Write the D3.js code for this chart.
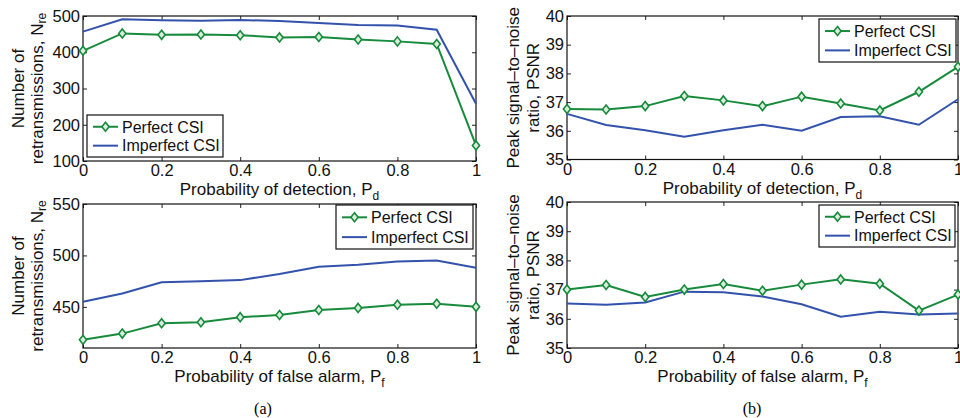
<!DOCTYPE html>
<html>
<head>
<meta charset="utf-8">
<script src="https://cdn.jsdelivr.net/npm/d3@7"></script>
<style>
  html, body { margin: 0; padding: 0; background: #fff; }
  svg { display: block; font-family: "Liberation Sans", Arial, sans-serif; }
</style>
</head>
<body>
<svg id="chart" width="960" height="418"></svg>
<script>
const pValues = [0, 0.1, 0.2, 0.3, 0.4, 0.5, 0.6, 0.7, 0.8, 0.9, 1];
const xTicks = [0, 0.2, 0.4, 0.6, 0.8, 1];

const nrePdPerfect = [404, 452, 448, 449, 447, 441, 442, 435, 430, 423, 143];
const nrePdImperfect = [457, 491, 488, 487, 489, 486, 481, 475, 474, 462, 258];
const psnrPdPerfect = [36.76, 36.74, 36.86, 37.21, 37.06, 36.86, 37.19, 36.95, 36.71, 37.36, 38.23];
const psnrPdImperfect = [36.59, 36.2, 36.02, 35.79, 36.02, 36.21, 36.0, 36.48, 36.51, 36.21, 37.1];
const nrePfPerfect = [418, 424, 434, 435, 440, 442, 447, 449, 452, 453, 450];
const nrePfImperfect = [455, 463, 474, 475, 476, 482, 489, 491, 494, 495, 488];
const psnrPfPerfect = [37.0, 37.16, 36.75, 37.0, 37.19, 36.96, 37.17, 37.35, 37.2, 36.28, 36.83];
const psnrPfImperfect = [36.52, 36.48, 36.56, 36.93, 36.91, 36.76, 36.5, 36.07, 36.24, 36.15, 36.18];

const seriesNames = ["Perfect CSI", "Imperfect CSI"];
const GREEN = "#178a3c";
const BLUE = "#3352ab";
const TICK_FS = 16.5;
const LABEL_FS = 17;

const panels = [
  {
    box: [83, 16, 476, 161], yDomain: [100, 500], yTicks: [100, 200, 300, 400, 500],
    perfect: nrePdPerfect, imperfect: nrePdImperfect,
    yLabel: [["Number of"], ["retransmissions, N", "re"]], yLabelX: [18, 37],
    xLabel: ["Probability of detection, P", "d"],
    legend: { x: 87, y: 115, w: 136, h: 42 }
  },
  {
    box: [567, 16, 958, 159.5], yDomain: [35, 40], yTicks: [35, 36, 37, 38, 39, 40],
    perfect: psnrPdPerfect, imperfect: psnrPdImperfect,
    yLabel: [["Peak signal\u2013to\u2013noise"], ["ratio, PSNR"]], yLabelX: [513, 533],
    xLabel: ["Probability of detection, P", "d"],
    legend: { x: 819, y: 19, w: 137, h: 43 }
  },
  {
    box: [83, 204, 476, 348], yDomain: [410, 550], yTicks: [450, 500, 550],
    perfect: nrePfPerfect, imperfect: nrePfImperfect,
    yLabel: [["Number of"], ["retransmissions, N", "re"]], yLabelX: [18, 37],
    xLabel: ["Probability of false alarm, P", "f"],
    legend: { x: 336, y: 205, w: 137, h: 44 }
  },
  {
    box: [567, 202, 958, 348], yDomain: [35, 40], yTicks: [35, 36, 37, 38, 39, 40],
    perfect: psnrPfPerfect, imperfect: psnrPfImperfect,
    yLabel: [["Peak signal\u2013to\u2013noise"], ["ratio, PSNR"]], yLabelX: [513, 533],
    xLabel: ["Probability of false alarm, P", "f"],
    legend: { x: 819, y: 205, w: 136, h: 42 }
  }
];

const svg = d3.select("#chart");

function diamond(sel) {
  sel.append("path")
    .attr("d", "M0,-4.5L3.6,0L0,4.5L-3.6,0Z")
    .attr("fill", "#d9eedd")
    .attr("stroke", GREEN)
    .attr("stroke-width", 1.6);
}

function addText(g, parts, attrs) {
  const t = g.append("text");
  Object.entries(attrs).forEach(([k, v]) => t.attr(k, v));
  t.append("tspan").text(parts[0]);
  if (parts[1]) {
    t.append("tspan").attr("dy", 5).attr("font-size", 12).text(parts[1]);
  }
  return t;
}

const tickFmt = (d) => (Number.isInteger(d) ? String(d) : d3.format(".1f")(d));

panels.forEach((p) => {
  const [x0, y0, x1, y1] = p.box;
  const x = d3.scaleLinear().domain([0, 1]).range([x0, x1]);
  const y = d3.scaleLinear().domain(p.yDomain).range([y1, y0]);
  const g = svg.append("g");

  // ticks inside the box on all sides
  const tickLen = 4;
  g.append("g").attr("transform", `translate(0,${y1})`)
    .call(d3.axisBottom(x).tickValues(xTicks).tickSizeInner(-tickLen).tickSizeOuter(0).tickFormat(tickFmt))
    .call((a) => a.select(".domain").remove())
    .call((a) => a.selectAll("text").attr("font-size", TICK_FS).attr("fill", "#111").attr("dy", "0.62em").attr("y", 5));
  g.append("g").attr("transform", `translate(0,${y0})`)
    .call(d3.axisTop(x).tickValues(xTicks).tickSizeInner(-tickLen).tickSizeOuter(0).tickFormat(""))
    .call((a) => a.select(".domain").remove());
  g.append("g").attr("transform", `translate(${x0},0)`)
    .call(d3.axisLeft(y).tickValues(p.yTicks).tickSizeInner(-tickLen).tickSizeOuter(0).tickFormat(tickFmt))
    .call((a) => a.select(".domain").remove())
    .call((a) => a.selectAll("text").attr("font-size", TICK_FS).attr("fill", "#111").attr("x", -3));
  g.append("g").attr("transform", `translate(${x1},0)`)
    .call(d3.axisRight(y).tickValues(p.yTicks).tickSizeInner(-tickLen).tickSizeOuter(0).tickFormat(""))
    .call((a) => a.select(".domain").remove());
  g.selectAll(".tick line").attr("stroke", "#222");

  g.append("rect")
    .attr("x", x0).attr("y", y0).attr("width", x1 - x0).attr("height", y1 - y0)
    .attr("fill", "none").attr("stroke", "#111").attr("stroke-width", 1.2);

  const line = d3.line().x((d, i) => x(pValues[i])).y((d) => y(d));
  g.append("path").datum(p.imperfect).attr("d", line)
    .attr("fill", "none").attr("stroke", BLUE).attr("stroke-width", 2);
  g.append("path").datum(p.perfect).attr("d", line)
    .attr("fill", "none").attr("stroke", GREEN).attr("stroke-width", 2);
  g.selectAll(".mk").data(p.perfect).enter().append("g")
    .attr("transform", (d, i) => `translate(${x(pValues[i])},${y(d)})`)
    .call(diamond);

  // axis labels
  addText(g, p.xLabel, {
    x: (x0 + x1) / 2, y: y1 + 34, "text-anchor": "middle", "font-size": LABEL_FS, fill: "#111"
  });
  const cy = (y0 + y1) / 2;
  p.yLabel.forEach((parts, i) => {
    const t = addText(g, parts, {
      transform: `translate(${p.yLabelX[i]},${cy}) rotate(-90)`,
      "text-anchor": "middle", "dominant-baseline": "central", "font-size": LABEL_FS, fill: "#111"
    });
    t.selectAll("tspan").filter((d, j) => j === 1).attr("dy", 5).attr("dominant-baseline", "auto");
  });

  // legend
  const L = p.legend;
  const lg = g.append("g").attr("transform", `translate(${L.x},${L.y})`);
  lg.append("rect").attr("width", L.w).attr("height", L.h)
    .attr("fill", "#fff").attr("stroke", "#111").attr("stroke-width", 1.2);
  const rows = [L.h * 0.28, L.h * 0.73];
  seriesNames.forEach((name, i) => {
    const ry = rows[i];
    lg.append("line").attr("x1", 6).attr("x2", 31).attr("y1", ry).attr("y2", ry)
      .attr("stroke", i === 0 ? GREEN : BLUE).attr("stroke-width", 2);
    if (i === 0) lg.append("g").attr("transform", `translate(18.5,${ry})`).call(diamond);
    lg.append("text").attr("x", 35).attr("y", ry).attr("dy", "0.36em")
      .attr("font-size", 16).attr("fill", "#111").text(name);
  });
});

// captions
svg.append("text").attr("x", 263).attr("y", 414).attr("text-anchor", "middle")
  .attr("font-family", "'Liberation Serif', 'Times New Roman', serif").attr("font-size", 16).text("(a)");
svg.append("text").attr("x", 752).attr("y", 414).attr("text-anchor", "middle")
  .attr("font-family", "'Liberation Serif', 'Times New Roman', serif").attr("font-size", 16).text("(b)");
</script>
</body>
</html>
